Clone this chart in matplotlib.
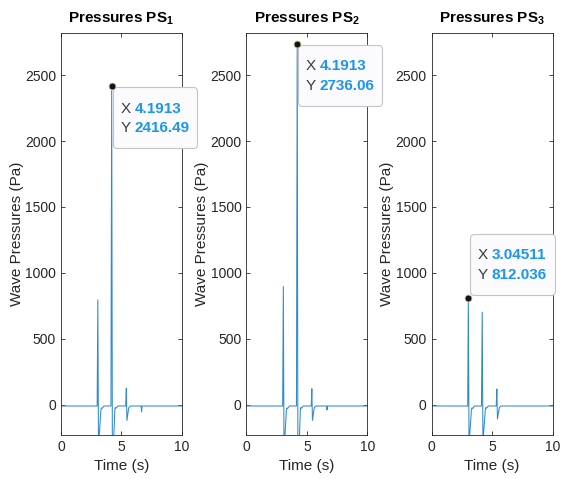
import numpy as np
import matplotlib
matplotlib.use('Agg')
import matplotlib.pyplot as plt
from matplotlib.offsetbox import TextArea, HPacker, VPacker, DrawingArea, AnnotationBbox

plt.rcParams['font.family'] = ['Liberation Sans', 'DejaVu Sans']
plt.rcParams['mathtext.fontset'] = 'custom'
plt.rcParams['mathtext.rm'] = 'Liberation Sans'
plt.rcParams['mathtext.bf'] = 'Liberation Sans:bold'

# pressure traces of the three sensors (time in s, pressure in Pa)
t1 = [0, 2.99, 3.04511, 3.10, 3.30, 3.34, 3.40, 3.55, 4.13, 4.1913, 4.25, 4.45, 4.49, 4.55, 4.70,
      5.35, 5.40, 5.45, 5.58, 5.62, 5.75, 6.62, 6.66, 6.70, 10]
p1 = [-10, -10, 795, -320, -40, -25, -28, -10, -10, 2416.49, -520, -40, -22, -26, -10,
      -10, 125, -120, -35, -20, -10, -10, -55, -10, -10]

t2 = [0, 2.99, 3.04511, 3.10, 3.30, 3.34, 3.40, 3.55, 4.13, 4.1913, 4.25, 4.45, 4.49, 4.55, 4.70,
      5.35, 5.40, 5.45, 5.58, 5.62, 5.75, 6.62, 6.66, 6.70, 10]
p2 = [-10, -10, 896, -360, -40, -25, -28, -10, -10, 2736.06, -580, -40, -22, -26, -10,
      -10, 121, -119, -35, -20, -10, -10, -40, -10, -10]

t3 = [0, 2.99, 3.04511, 3.10, 3.30, 3.34, 3.40, 3.55, 4.13, 4.1913, 4.25, 4.45, 4.49, 4.55, 4.70,
      5.35, 5.40, 5.45, 5.58, 5.62, 5.75, 10]
p3 = [-10, -10, 812.036, -300, -40, -25, -28, -10, -10, 702, -280, -40, -22, -26, -10,
      -10, 119, -108, -35, -20, -10, -10]

titles = [r'Pressures PS$_\mathbf{1}$', r'Pressures PS$_\mathbf{2}$', r'Pressures PS$_\mathbf{3}$']
tips = [(4.1913, 2416.49, 'below'), (4.1913, 2736.06, 'below'), (3.04511, 812.036, 'above')]
series = [(t1, p1), (t2, p2), (t3, p3)]

line_col = '#2f8ad0'
txt_col = '#262626'
val_col = '#1B95F0'

fig = plt.figure(figsize=(5.62, 4.79), dpi=100)
lefts = [0.1085, 0.4386, 0.7678]

for i in range(3):
    ax = fig.add_axes([lefts[i], 0.0919, 0.2153, 0.8392])
    t, p = series[i]
    ax.plot(t, p, color=line_col, lw=0.75)
    ax.set_xlim(0, 10)
    ax.set_ylim(-230, 2820)
    ax.set_xticks([0, 5, 10])
    ax.set_yticks([0, 500, 1000, 1500, 2000, 2500])
    ax.tick_params(direction='in', top=True, right=True, labelsize=10,
                   colors=txt_col, length=3, width=0.6)
    for s in ax.spines.values():
        s.set_color(txt_col)
        s.set_linewidth(0.6)
    ax.set_title(titles[i], fontsize=11, fontweight='bold', color='k', pad=8)
    ax.set_xlabel('Time (s)', fontsize=11, color=txt_col)
    ax.set_ylabel('Wave Pressures (Pa)', fontsize=11, color=txt_col, labelpad=1)

    # data tip: marker plus X/Y box
    tx, ty, where = tips[i]
    ax.plot(tx, ty, 'o', ms=5, mfc='#141414', mec='#d8d09a', mew=0.6, clip_on=False, zorder=8)
    rows = [DrawingArea(1, 1)]
    for lab, val in (('X', '%g' % tx), ('Y', '%g' % ty)):
        rows.append(HPacker(children=[
            TextArea(lab, textprops=dict(color='#3a3a3a', fontsize=11)),
            TextArea(val, textprops=dict(color=val_col, fontsize=11, fontweight='bold'))],
            pad=0, sep=2.7, align='baseline'))
    rows.append(DrawingArea(1, 0))
    box = VPacker(children=rows, pad=5.6, sep=3.8, align='left')
    if where == 'below':
        xybox, align = (0.7, -0.7), (0, 1)
    else:
        xybox, align = (1.4, 2.2), (0, 0)
    ab = AnnotationBbox(box, (tx, ty), xybox=xybox, xycoords='data',
                        boxcoords='offset points', box_alignment=align, pad=0,
                        annotation_clip=False,
                        bboxprops=dict(boxstyle='round,pad=0,rounding_size=0.3',
                                       fc='#fbfbfd', ec='#c4c4c4', lw=0.8))
    ab.set_zorder(6)
    ax.add_artist(ab)

fig.savefig('out.png', dpi=100)
